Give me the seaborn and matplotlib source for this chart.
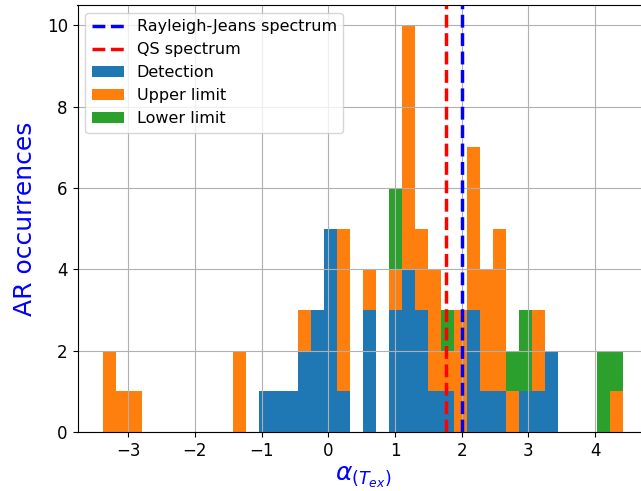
import numpy as np
import pandas as pd
import seaborn as sns
import matplotlib
matplotlib.use("Agg")
import matplotlib.pyplot as plt
from matplotlib.lines import Line2D
from matplotlib.patches import Patch

# ---- data ----
alpha_min = -3.37
alpha_max = 4.42
n_bins = 40

detection_counts = [0, 0, 0, 0, 0, 0, 0, 0, 0, 0,
                    0, 0, 1, 1, 1, 2, 3, 5, 1, 0,
                    3, 0, 3, 4, 3, 1, 1, 0, 3, 1,
                    1, 0, 1, 1, 2, 0, 0, 0, 0, 0]
upper_counts = [2, 1, 1, 0, 0, 0, 0, 0, 0, 0,
                2, 0, 0, 0, 0, 1, 0, 0, 4, 0,
                1, 0, 1, 6, 2, 3, 1, 3, 4, 3,
                4, 1, 0, 2, 0, 0, 0, 0, 0, 1]
lower_counts = [0, 0, 0, 0, 0, 0, 0, 0, 0, 0,
                0, 0, 0, 0, 0, 0, 0, 0, 0, 0,
                0, 0, 2, 0, 0, 0, 1, 0, 0, 0,
                0, 1, 2, 0, 0, 0, 0, 0, 2, 1]
categories = ["Detection", "Upper limit", "Lower limit"]
rj_alpha = 2.0
qs_alpha = 1.76

# ---- build table ----
edges = np.linspace(alpha_min, alpha_max, n_bins + 1)
centers = 0.5 * (edges[:-1] + edges[1:])
rows = []
for cat, counts in zip(categories, [detection_counts, upper_counts, lower_counts]):
    for c, n in zip(centers, counts):
        rows.append({"alpha": c, "count": n, "type": cat})
df = pd.DataFrame(rows)

colors = {"Detection": "#1f77b4", "Upper limit": "#ff7f0e", "Lower limit": "#2ca02c"}

fig = plt.figure(figsize=(6.41, 4.91), dpi=100)
ax = fig.add_axes([77.5 / 641, 59 / 491, 571.6 / 641, 427 / 491])

sns.histplot(data=df, x="alpha", weights="count", hue="type",
             hue_order=["Lower limit", "Upper limit", "Detection"],
             palette=colors, multiple="stack", bins=n_bins,
             binrange=(alpha_min, alpha_max),
             alpha=1, edgecolor="none", linewidth=0, legend=False, ax=ax)

ax.axvline(rj_alpha, color="b", linestyle="--", linewidth=2.5)
ax.axvline(qs_alpha, color="r", linestyle="--", linewidth=2.5)

ax.grid(True)
ax.tick_params(labelsize=12)
ax.set_xlabel(r"$\alpha_{(T_{ex})}$", color="b", fontsize=18, labelpad=4)
ax.set_ylabel("AR occurrences", color="b", fontsize=18, labelpad=7)

handles = [Line2D([0], [0], color="b", linestyle="--", linewidth=2.5),
           Line2D([0], [0], color="r", linestyle="--", linewidth=2.5),
           Patch(facecolor=colors["Detection"]),
           Patch(facecolor=colors["Upper limit"]),
           Patch(facecolor=colors["Lower limit"])]
labels = ["Rayleigh-Jeans spectrum", "QS spectrum", "Detection", "Upper limit", "Lower limit"]
ax.legend(handles, labels, loc="upper left", fontsize=11.5)

fig.savefig("out.png", dpi=100)
